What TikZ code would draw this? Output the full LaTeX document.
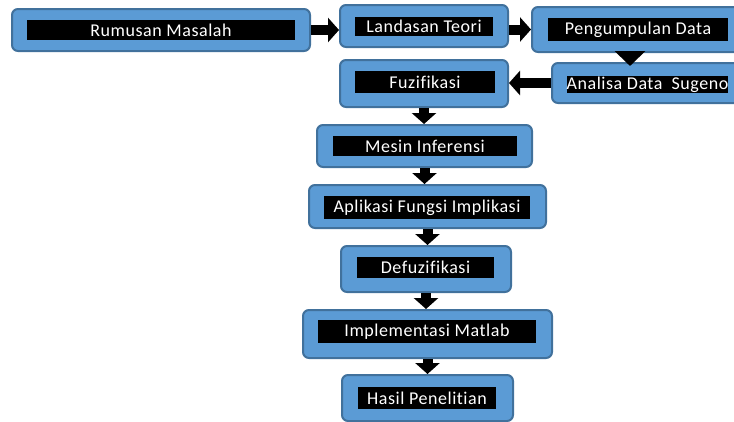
\documentclass[tikz,border=0pt]{standalone}
\usepackage{fontspec}
\setmainfont{Carlito}[Ligatures=NoCommon, LetterSpace=3]
\usetikzlibrary{arrows.meta}
\newlength{\upx}
\setlength{\upx}{0.75pt}

\begin{document}
\begin{tikzpicture}[x=0.75pt,y=-0.75pt]

% Colori
\definecolor{boxBlue}{HTML}{5B9BD5}
\definecolor{boxLine}{HTML}{41719C}

\tikzset{
  outerbox/.style={rectangle, rounded corners=6\upx, fill=boxBlue, draw=boxLine, line width=2\upx, inner sep=0pt},
  innerbox/.style={rectangle, fill=black, text=white, inner sep=0pt, font=\fontsize{13.5}{15}\selectfont},
  arrowblk/.style={draw=black, line width=10\upx, -{Triangle[width=18pt, length=8.25pt]}},
  arrowbig/.style={draw=black, line width=15\upx, -{Triangle[width=22.5pt, length=11.25pt]}}
}

\useasboundingbox (0,0) rectangle (734,421);
\clip (0,0) rectangle (734,421);

% Riga in alto
\node[outerbox, minimum width=298\upx, minimum height=42\upx] (rumusan) at (161,30) {};
\node[innerbox, minimum width=268\upx, minimum height=20\upx] (rumusanT) at (rumusan) {Rumusan Masalah};

\node[outerbox, minimum width=168\upx, minimum height=42\upx] (landasan) at (424,26) {};
\node[innerbox, minimum width=138\upx, minimum height=19\upx] (landasanT) at (landasan) {Landasan Teori};

\node[outerbox, minimum width=212\upx, minimum height=45\upx] (pengumpulan) at (638,29.5) {};
\node[innerbox, minimum width=180\upx, minimum height=23\upx] (pengumpulanT) at (pengumpulan) {Pengumpulan Data};

\node[outerbox, minimum width=191\upx, minimum height=40\upx] (analisa) at (647.5,83) {};
\node[innerbox, minimum width=161\upx, minimum height=17\upx] (analisaT) at (647.5,84.5) {Analisa Data\ \ Sugeno};

% Colonna centrale
\node[outerbox, minimum width=168\upx, minimum height=47\upx] (fuzifikasi) at (424,83.5) {};
\node[innerbox, minimum width=140\upx, minimum height=22\upx] (fuzifikasiT) at (425,82) {Fuzifikasi};

\node[outerbox, minimum width=215\upx, minimum height=42\upx] (mesin) at (424.5,146) {};
\node[innerbox, minimum width=184\upx, minimum height=20\upx] (mesinT) at (425,146) {Mesin Inferensi};

\node[outerbox, minimum width=237\upx, minimum height=43\upx] (aplikasi) at (427.5,206.5) {};
\node[innerbox, minimum width=206\upx, minimum height=23\upx] (aplikasiT) at (427,207.5) {Aplikasi Fungsi Implikasi};

\node[outerbox, minimum width=170\upx, minimum height=46\upx] (defuzifikasi) at (426,269) {};
\node[innerbox, minimum width=137\upx, minimum height=21\upx] (defuzifikasiT) at (425.5,267.5) {Defuzifikasi};

\node[outerbox, minimum width=249\upx, minimum height=48\upx] (implementasi) at (427.5,334) {};
\node[innerbox, minimum width=218\upx, minimum height=23\upx] (implementasiT) at (427,331.5) {Implementasi Matlab};

\node[outerbox, minimum width=171\upx, minimum height=46\upx] (hasil) at (427.5,398) {};
\node[innerbox, minimum width=138\upx, minimum height=22\upx] (hasilT) at (427,398) {Hasil Penelitian};

% Frecce
\draw[arrowblk] (rumusan.east) -- (rumusan.east -| landasan.west);
\draw[arrowblk] (landasan.east |- pengumpulan.west) -- (pengumpulan.west);
\draw[arrowbig] ([xshift=-8\upx]pengumpulan.south) -- ([xshift=-8\upx, yshift=-4\upx]pengumpulan.south |- analisa.north);
\draw[arrowblk] (analisa.west) -- (analisa.west -| fuzifikasi.east);

\foreach \a/\b in {fuzifikasi/mesin, mesin/aplikasi, aplikasi/defuzifikasi, defuzifikasi/implementasi, implementasi/hasil}
  \draw[arrowblk] (\a.south) -- (\a.south |- \b.north);

\end{tikzpicture}
\end{document}
